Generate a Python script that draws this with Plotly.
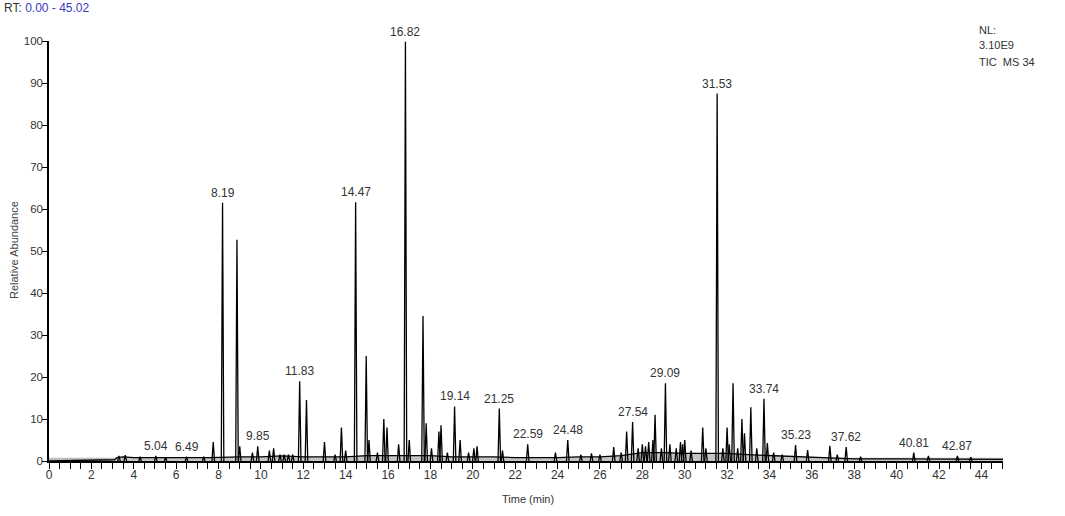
import plotly.graph_objects as go

# ---------------- data ----------------
baseline_rt = [0.0, 3.1, 3.2, 3.5, 4.0, 5.0, 6.0, 7.0, 7.6, 9.0, 10.0, 11.0, 12.0, 13.0, 14.0,
               15.0, 16.0, 17.0, 18.0, 19.0, 20.0, 21.0, 22.0, 23.0, 24.0, 25.0, 26.0, 27.0,
               28.0, 29.0, 30.0, 31.0, 32.0, 33.0, 34.0, 35.0, 36.0, 37.0, 38.0, 40.0, 42.0,
               44.0, 45.02]
baseline_level = [0.0, 0.3, 0.8, 1.0, 0.8, 0.8, 0.7, 0.7, 0.8, 1.0, 1.0, 1.2, 1.0, 1.0, 1.0,
                  1.3, 1.3, 1.3, 1.3, 1.0, 1.0, 1.0, 0.8, 0.8, 0.8, 1.0, 1.0, 1.3,
                  2.0, 2.0, 1.8, 1.8, 1.8, 1.5, 1.3, 1.0, 0.8, 0.6, 0.5, 0.5, 0.5,
                  0.4, 0.4]

peak_rt = [3.3, 3.6, 4.3, 5.04, 5.5, 6.49, 7.3, 7.75, 8.19, 8.87, 9.0, 9.6, 9.85, 10.4, 10.6,
           10.9, 11.1, 11.3, 11.5, 11.83, 12.15, 13.0, 13.5, 13.8, 14.0, 14.47, 14.97, 15.1,
           15.5, 15.8, 15.95, 16.5, 16.82, 17.0, 17.65, 17.8, 18.05, 18.4, 18.5, 18.8, 19.14,
           19.4, 19.8, 20.05, 20.2, 21.25, 21.4, 22.59, 23.9, 24.48, 25.1, 25.6, 26.0, 26.65,
           27.0, 27.26, 27.54, 27.8, 28.0, 28.15, 28.3, 28.5, 28.6, 28.9, 29.09, 29.3, 29.6,
           29.8, 29.9, 30.0, 30.3, 30.85, 31.0, 31.53, 31.8, 32.0, 32.1, 32.28, 32.5, 32.7,
           32.82, 33.12, 33.4, 33.74, 33.9, 34.2, 34.6, 35.23, 35.8, 36.85, 37.2, 37.62, 38.3,
           40.81, 41.5, 42.87, 43.5]
peak_height = [1.2, 1.4, 1.0, 1.2, 0.9, 1.0, 1.0, 4.5, 61.5, 52.7, 3.5, 2.0, 3.5, 2.5, 3.0,
               1.5, 1.5, 1.5, 1.5, 19.0, 14.5, 4.5, 1.5, 8.0, 2.5, 61.6, 25.0, 5.0,
               2.0, 10.0, 8.0, 4.0, 99.8, 5.0, 34.5, 9.0, 3.0, 7.0, 8.5, 2.0, 13.0,
               5.0, 2.0, 3.0, 3.5, 12.5, 2.5, 4.0, 2.0, 5.0, 1.5, 1.8, 1.5, 3.3,
               2.0, 7.0, 9.3, 3.0, 4.0, 3.5, 4.5, 5.0, 11.0, 3.0, 18.5, 4.0, 3.0,
               4.5, 4.0, 5.0, 2.5, 8.0, 3.0, 87.5, 3.0, 8.0, 4.0, 18.5, 3.0, 10.0,
               6.6, 12.8, 3.0, 14.8, 4.3, 2.0, 1.5, 3.8, 2.6, 3.6, 1.5, 3.3, 1.0,
               2.0, 1.2, 1.2, 0.9]

label_rt = [5.04, 6.49, 8.19, 9.85, 11.83, 14.47, 16.82, 19.14, 21.25, 22.59, 24.48,
            27.54, 29.09, 31.53, 33.74, 35.23, 37.62, 40.81, 42.87]
label_height = [1.2, 1.0, 61.5, 3.5, 19.0, 61.6, 99.8, 13.0, 12.5, 4.0, 5.0,
                9.3, 18.5, 87.5, 14.8, 3.8, 3.3, 2.0, 1.2]
label_text = ["5.04", "6.49", "8.19", "9.85", "11.83", "14.47", "16.82", "19.14", "21.25",
              "22.59", "24.48", "27.54", "29.09", "31.53", "33.74", "35.23", "37.62",
              "40.81", "42.87"]

x_range = [0.0, 45.02]
y_range = [0, 100]

# ---------------- figure ----------------
FONT = "Liberation Sans Narrow, Arial Narrow, Liberation Sans, Arial, sans-serif"
HALF_W = 0.06

px, py = [], []
for rt, h in zip(peak_rt, peak_height):
    px += [rt - HALF_W, rt, rt + HALF_W, None]
    py += [0, h, 0, None]

fig = go.Figure()
fig.add_trace(go.Scatter(x=x_range, y=[0.4, 0.4], mode="lines",
                         line=dict(color="#bdbdbd", width=3), hoverinfo="skip"))
fig.add_trace(go.Scatter(x=baseline_rt, y=baseline_level, mode="lines",
                         line=dict(color="black", width=1.3), fill="tozeroy",
                         fillcolor="#c4c4c4"))
fig.add_trace(go.Scatter(x=px, y=py, mode="lines", line=dict(color="black", width=1.3),
                         connectgaps=False))

for rt, h, t in zip(label_rt, label_height, label_text):
    fig.add_annotation(x=rt, y=h, text=t, showarrow=False, xanchor="center",
                       yanchor="bottom", yshift=1, font=dict(family=FONT, size=12, color="#333333"))

L, R, T, B = 49, 62, 41, 55
W, H = 1065, 516
pw, ph = W - L - R, H - T - B


def pxx(x):
    return (x - L) / pw


def pyy(y):
    return (H - B - y) / ph


fig.add_annotation(xref="paper", yref="paper", x=pxx(2), y=pyy(8), xanchor="left",
                   yanchor="middle", showarrow=False,
                   text="RT: <span style='color:#3b3bbf'>0.00 - 45.02</span>",
                   font=dict(family=FONT, size=12, color="#333333"))
for txt, yy in [("NL:", 30), ("3.10E9", 45), ("TIC  MS 34", 62)]:
    fig.add_annotation(xref="paper", yref="paper", x=pxx(977), y=pyy(yy), xanchor="left",
                       yanchor="middle", showarrow=False, text=txt,
                       font=dict(family=FONT, size=11, color="#333333"))
fig.add_annotation(xref="paper", yref="paper", x=pxx(14), y=pyy(250), textangle=-90,
                   xanchor="center", yanchor="middle",
                   showarrow=False, text="Relative Abundance",
                   font=dict(family=FONT, size=11, color="#444444"))
fig.add_annotation(xref="paper", yref="paper", x=pxx(528), y=pyy(499), showarrow=False,
                   xanchor="center", yanchor="middle",
                   text="Time (min)", font=dict(family=FONT, size=11, color="#333333"))

fig.update_layout(
    width=W, height=H, margin=dict(l=L, r=R, t=T, b=B),
    paper_bgcolor="white", plot_bgcolor="white", showlegend=False,
    font=dict(family=FONT, size=12, color="#333333"),
)
fig.update_xaxes(range=x_range, showgrid=False, zeroline=False, showline=True,
                 linecolor="black", linewidth=1.5, ticks="outside", tickcolor="black",
                 ticklen=6, tickwidth=1.3, dtick=2, tick0=0,
                 minor=dict(dtick=0.5, tick0=0, ticks="outside", ticklen=6, tickwidth=1.3,
                            tickcolor="black"),
                 ticklabelstandoff=-4,
                 tickfont=dict(family=FONT, size=12, color="#333333"))
fig.update_yaxes(range=y_range, showgrid=False, zeroline=False, showline=True,
                 linecolor="black", linewidth=1.5, ticks="outside", tickcolor="black",
                 ticklen=5, tickwidth=1.3, dtick=10, tick0=0,
                 ticklabelstandoff=-3,
                 tickfont=dict(family=FONT, size=11.5, color="#333333"))

fig.write_html("out.html", config={"displayModeBar": False},
               post_script="document.body.style.margin='0px';document.body.style.overflow='hidden';")
